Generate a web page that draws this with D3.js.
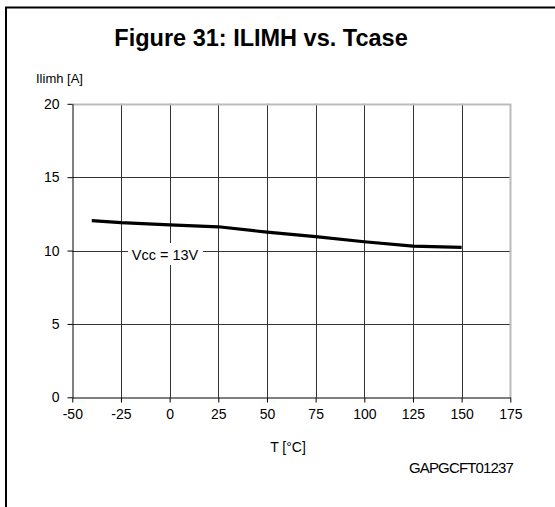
<!DOCTYPE html>
<html><head><meta charset="utf-8">
<script src="https://cdn.jsdelivr.net/npm/d3@7"></script>
<style>body{margin:0;background:#fff}svg{display:block;font-family:"Liberation Sans",Arial,sans-serif}</style>
</head><body>
<svg id="c" width="555" height="507"></svg>
<script>
const temps = [-40, -25, 0, 25, 50, 75, 100, 125, 150];
const ilimh = [12.04, 11.9, 11.75, 11.62, 11.25, 10.95, 10.6, 10.3, 10.22];
const xTicks = [-50, -25, 0, 25, 50, 75, 100, 125, 150, 175];
const yTicks = [0, 5, 10, 15, 20];

const svg = d3.select("#c");
const x = d3.scaleLinear().domain([-50, 175]).range([72.3, 510.3]);
const y = d3.scaleLinear().domain([0, 20]).range([397.3, 103.8]);

svg.append("path").attr("d","M6,555 V7.5 H560").attr("fill","none").attr("stroke","#000").attr("stroke-width",2);

svg.append("text").attr("x",261).attr("y",46).attr("text-anchor","middle")
  .attr("font-size",23.5).attr("font-weight","bold").text("Figure 31: ILIMH vs. Tcase");
svg.append("text").attr("x",36).attr("y",83).attr("font-size",13).text("Ilimh [A]");

const g = svg.append("g");
g.selectAll(".vg").data(xTicks.slice(1,-1)).join("line")
  .attr("x1",d=>Math.round(x(d))+0.5).attr("x2",d=>Math.round(x(d))+0.5)
  .attr("y1",y(20)).attr("y2",y(0)).attr("stroke","#333").attr("stroke-width",1);
g.selectAll(".hg").data(yTicks.slice(1,-1)).join("line")
  .attr("y1",d=>Math.round(y(d))+0.5).attr("y2",d=>Math.round(y(d))+0.5)
  .attr("x1",x(-50)).attr("x2",x(175)).attr("stroke","#333").attr("stroke-width",1);
svg.append("path").attr("d",`M${x(-50)},${Math.round(y(20))+0.5} H${Math.round(x(175))+0.5} V${y(0)}`)
  .attr("fill","none").attr("stroke","#bbb").attr("stroke-width",2);

const fmt = d => String(d);
const xa = svg.append("g").attr("transform",`translate(0,${Math.round(y(0))+0.5})`)
  .call(d3.axisBottom(x).tickValues(xTicks).tickFormat(fmt).tickSize(5).tickSizeOuter(0));
const ya = svg.append("g").attr("transform",`translate(${Math.round(x(-50))+0.5},0)`)
  .call(d3.axisLeft(y).tickValues(yTicks).tickFormat(fmt).tickSize(5).tickSizeOuter(0));
[xa,ya].forEach(a=>{a.selectAll("text").attr("font-size",14).attr("font-family","Liberation Sans, Arial, sans-serif").attr("fill","#000");
  a.selectAll("line,path").attr("stroke","#000");});
xa.selectAll("text").attr("dy","0.95em");
ya.selectAll("text").attr("dx","-0.35em");

svg.append("rect").attr("x",128).attr("y",243).attr("width",75).attr("height",22).attr("fill","#fff");
svg.append("text").attr("x",165).attr("y",260).attr("text-anchor","middle").attr("font-size",14.5).text("Vcc = 13V");

const line = d3.line().x((d,i)=>x(temps[i])).y(d=>y(d));
svg.append("path").datum(ilimh).attr("d",line).attr("fill","none").attr("stroke","#000")
  .attr("stroke-width",3.2).attr("stroke-linejoin","round");

svg.append("text").attr("x",288).attr("y",452).attr("text-anchor","middle").attr("font-size",14).text("T [°C]");
svg.append("text").attr("x",513).attr("y",473).attr("text-anchor","end").attr("font-size",15)
  .attr("letter-spacing","-0.85").text("GAPGCFT01237");
</script>
</body></html>
